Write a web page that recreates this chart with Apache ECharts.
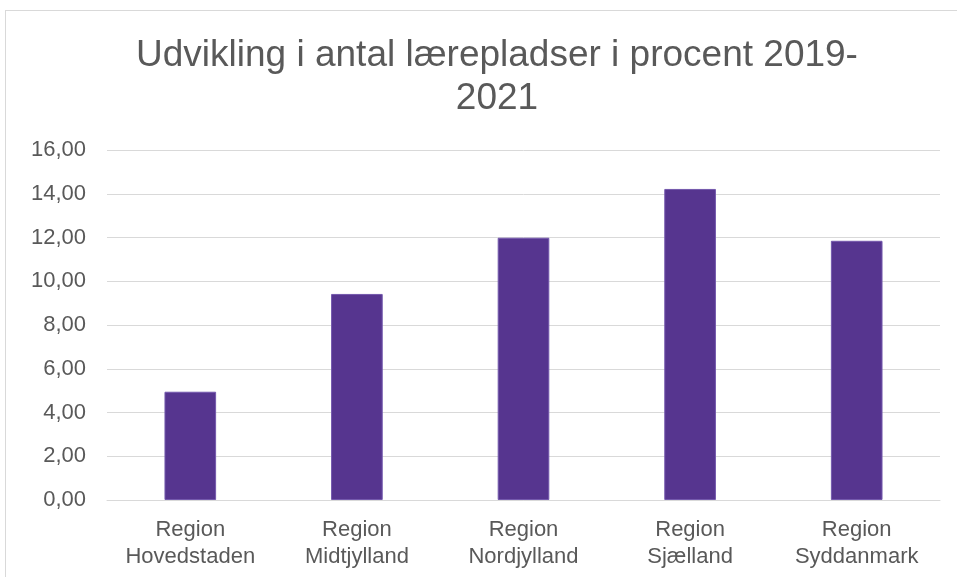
<!DOCTYPE html>
<html>
<head>
<meta charset="utf-8">
<script src="https://cdn.jsdelivr.net/npm/echarts@6/dist/echarts.min.js"></script>
<style>
  html, body { margin: 0; padding: 0; background: #fff; overflow: hidden; }
  #frame { position: absolute; left: 5px; top: 10px; width: 1000px; height: 600px; border: 1px solid #d9d9d9; }
  #chart { position: absolute; left: 0; top: 0; width: 957px; height: 577px; }
</style>
</head>
<body>
<div id="frame"></div>
<div id="chart"></div>
<script>
const categories = ['Region\nHovedstaden', 'Region\nMidtjylland', 'Region\nNordjylland', 'Region\nSjælland', 'Region\nSyddanmark']
const values = [4.95, 9.42, 11.99, 14.22, 11.85]
const titleText = 'Udvikling i antal lærepladser i procent 2019-\n2021'

const fmt = v => v.toFixed(2).replace('.', ',')

const chart = echarts.init(document.getElementById('chart'))

const option = {
  animation: false,
  textStyle: { fontFamily: 'Liberation Sans, Arial, sans-serif' },
  title: {
    text: titleText,
    left: 492,
    top: 29,
    textAlign: 'center',
    textStyle: {
      color: '#595959',
      fontSize: 37,
      fontWeight: 'normal',
      lineHeight: 43,
      fontFamily: 'Liberation Sans, Arial, sans-serif'
    }
  },
  grid: {
    left: 107,
    right: 17,
    top: 150,
    bottom: 77
  },
  xAxis: {
    type: 'category',
    data: categories,
    axisLine: { lineStyle: { color: '#d9d9d9', width: 1 } },
    axisTick: { show: false },
    axisLabel: {
      color: '#595959',
      fontSize: 22,
      lineHeight: 27,
      margin: 16,
      interval: 0
    }
  },
  yAxis: {
    type: 'value',
    min: 0,
    max: 16,
    interval: 2,
    axisLine: { show: false },
    axisTick: { show: false },
    axisLabel: {
      color: '#595959',
      fontSize: 22,
      margin: 21,
      formatter: fmt
    },
    splitLine: { lineStyle: { color: '#d9d9d9', width: 1 } }
  },
  series: [
    {
      type: 'bar',
      data: values,
      barWidth: '31%',
      itemStyle: {
        color: '#56358f',
        borderColor: '#7459ad',
        borderWidth: 1
      }
    }
  ]
}

chart.setOption(option)
</script>
</body>
</html>
